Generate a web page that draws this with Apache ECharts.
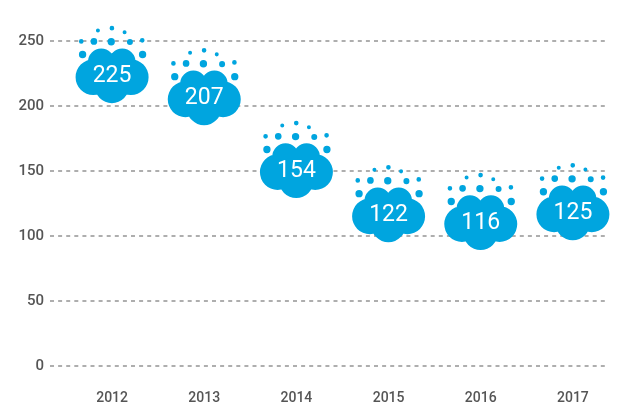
<!DOCTYPE html>
<html>
<head>
<meta charset="utf-8">
<style>html,body{margin:0;padding:0;background:#fff}#chart{width:629px;height:409px}</style>
<script src="https://cdn.jsdelivr.net/npm/echarts@6/dist/echarts.min.js"></script>
</head>
<body>
<div id="chart"></div>
<script>
const years = ['2012', '2013', '2014', '2015', '2016', '2017']
// number printed on each cloud
const printedValues = [225, 207, 154, 122, 116, 125]
// where each cloud sits on the axis, the picture does not place them exactly at the printed number
const cloudLevels = [224, 207, 151, 117, 111, 118.5]
const yTicks = { min: 0, max: 250, interval: 50 }

// cloud with droplets, drawn in one path so it scales as one symbol
const circle = (x, y, r) => `M${x - r} ${y}A${r} ${r} 0 1 1 ${x + r} ${y}A${r} ${r} 0 1 1 ${x - r} ${y}Z`
const cloudPath = 'path://' + [
  [281, 230, 53], [305, 185, 40], [368, 185, 40], [394, 230, 53], [337, 255, 52], [337, 215, 55],
  [295, 92, 6], [337, 85, 7], [375, 97, 6],
  [245, 124, 7], [283, 124, 10], [335, 125, 11], [391, 126, 9], [428, 121, 7],
  [249, 163, 11], [429, 163, 11]
].map(c => circle(...c)).join('')

const chart = echarts.init(document.getElementById('chart'))
const gridTop = 41, gridHeight = 325

chart.setOption({
  animation: false,
  // two grids: the dashed lines start left of the first band
  grid: [
    { left: 50, width: 557, top: gridTop, height: gridHeight },
    { left: 66, width: 553, top: gridTop, height: gridHeight }
  ],
  xAxis: [
    { gridIndex: 0, type: 'category', data: years, show: false },
    {
      gridIndex: 1,
      type: 'category',
      data: years,
      axisLine: { show: false },
      axisTick: { show: false },
      axisLabel: { color: '#555', fontFamily: 'Roboto', fontWeight: 500, fontSize: 14, margin: 25 }
    }
  ],
  yAxis: [
    {
      gridIndex: 0,
      type: 'value',
      ...yTicks,
      axisLine: { show: false },
      axisTick: { show: false },
      axisLabel: { color: '#555', fontFamily: 'Roboto', fontWeight: 500, fontSize: 15, margin: 6, padding: [2, 0, 0, 0] },
      splitLine: { lineStyle: { color: '#949494', type: [4, 4.1], width: 1.5 } }
    },
    { gridIndex: 1, type: 'value', ...yTicks, show: false }
  ],
  series: [{
    type: 'scatter',
    xAxisIndex: 1,
    yAxisIndex: 1,
    data: cloudLevels,
    symbol: cloudPath,
    symbolSize: [73, 77.3],
    symbolOffset: [0, -10.3],
    itemStyle: { color: '#00a5df', opacity: 1 },
    label: {
      show: true,
      position: 'inside',
      offset: [0, 12],
      formatter: p => printedValues[p.dataIndex],
      color: '#fff',
      fontFamily: 'Roboto',
      fontSize: 23
    }
  }]
})
</script>
</body>
</html>
